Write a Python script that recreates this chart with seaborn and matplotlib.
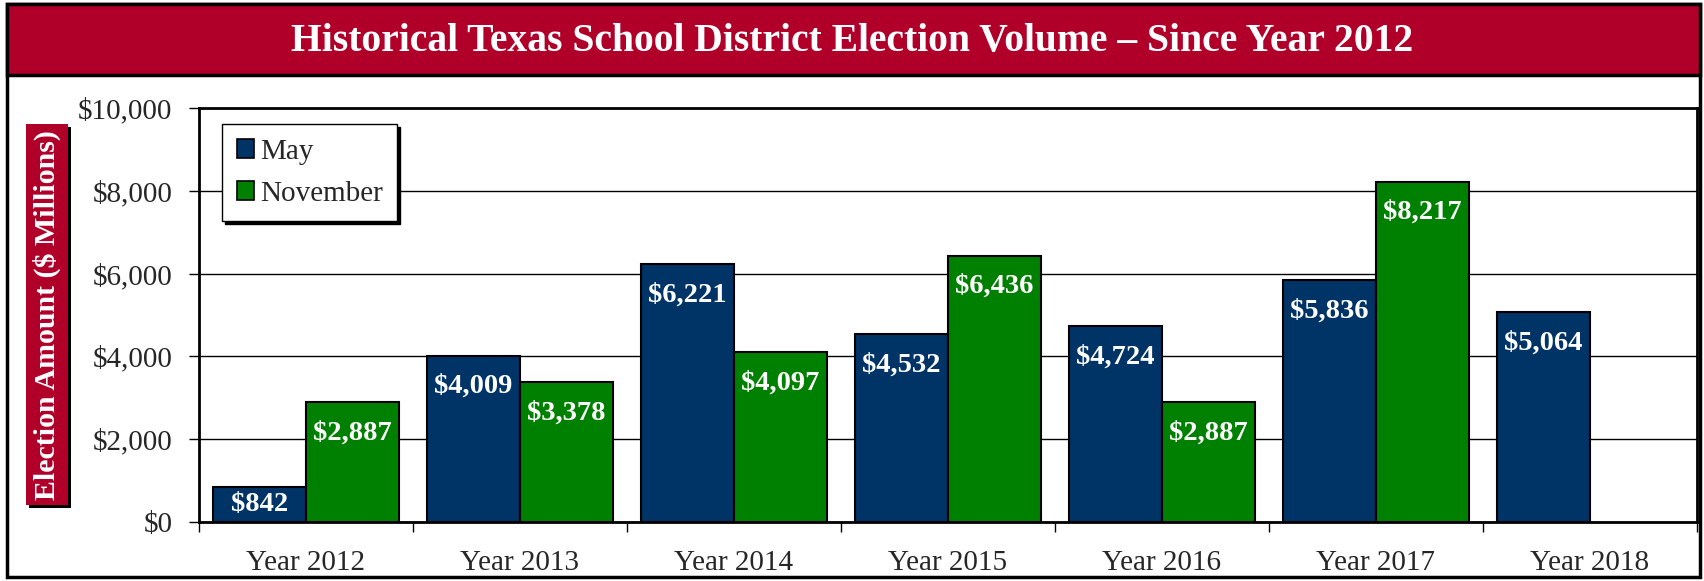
import numpy as np
import pandas as pd
import matplotlib
matplotlib.use("Agg")
import matplotlib.pyplot as plt
from matplotlib.patches import Rectangle
from matplotlib.ticker import FuncFormatter
import seaborn as sns

# --- DATOS ---
years = ["Year 2012", "Year 2013", "Year 2014", "Year 2015", "Year 2016", "Year 2017", "Year 2018"]
may = [842, 4009, 6221, 4532, 4724, 5836, 5064]
november = [2887, 3378, 4097, 6436, 2887, 8217, np.nan]

df = pd.DataFrame({
    "year": years * 2,
    "month": ["May"] * len(years) + ["November"] * len(years),
    "amount": may + november,
})

NAVY = "#003366"
GREEN = "#008000"
RED = "#B0002A"

sns.set_style("white")
plt.rcParams["font.family"] = ["Liberation Serif", "DejaVu Serif"]

W, H = 1704, 581
fig = plt.figure(figsize=(W / 100, H / 100), dpi=100)

# marco exterior y banda del titulo
fig.patches.append(Rectangle((7 / W, 1 - 577 / H), 1693 / W, 573 / H, transform=fig.transFigure,
                             fill=False, edgecolor="black", lw=2.5, zorder=0))
fig.patches.append(Rectangle((7 / W, 1 - 75 / H), 1693 / W, 71 / H, transform=fig.transFigure,
                             facecolor=RED, edgecolor="black", lw=2.5, zorder=1))
fig.text(0.5, 1 - 41 / H, "Historical Texas School District Election Volume \u2013 Since Year 2012",
         ha="center", va="center", color="white", fontsize=28.5, fontweight="bold")

# etiqueta del eje Y en caja roja con sombra
fig.patches.append(Rectangle((29 / W, 1 - 508 / H), 42 / W, 381 / H, transform=fig.transFigure,
                             facecolor="black", edgecolor="none", zorder=1))
fig.patches.append(Rectangle((26 / W, 1 - 505 / H), 42 / W, 381 / H, transform=fig.transFigure,
                             facecolor=RED, edgecolor="none", zorder=2))
fig.text(47 / W, 1 - 315 / H, "Election Amount ($ Millions)", rotation=90, ha="center", va="center",
         color="white", fontsize=21.5, fontweight="bold", zorder=3)

ax = fig.add_axes([199 / W, 59 / H, 1498 / W, 414 / H])
sns.barplot(data=df, x="year", y="amount", hue="month", hue_order=["May", "November"],
            palette=[NAVY, GREEN], width=0.87, saturation=1, edgecolor="black", linewidth=1.5,
            ax=ax)

ax.set_ylim(0, 10000)
ax.set_xlim(-0.5, len(years) - 0.5)
ax.set_yticks(np.arange(0, 10001, 2000))
ax.yaxis.set_major_formatter(FuncFormatter(lambda v, p: f"${v:,.0f}"))
ax.set_xlabel("")
ax.set_ylabel("")
ax.set_axisbelow(True)
ax.yaxis.grid(True, color="black", lw=1)

ax.set_xticks(np.arange(-0.5, len(years), 1), minor=True)
ax.tick_params(axis="x", which="major", length=0, pad=20, labelsize=21)
ax.tick_params(axis="x", which="minor", length=7, width=1, direction="out", color="black", bottom=True)
ax.tick_params(axis="y", length=7, width=1, direction="out", color="black", left=True, pad=12, labelsize=21)
for s in ax.spines.values():
    s.set_color("black")
    s.set_linewidth(2)

# etiquetas de valores
for bar in ax.patches:
    h = bar.get_height()
    if np.isnan(h) or h <= 0 or bar.get_width() == 0:
        continue
    xc = bar.get_x() + bar.get_width() / 2
    if h < 1500:
        ax.text(xc, h / 2, f"${h:,.0f}", ha="center", va="center", color="white",
                fontsize=20.5, fontweight="bold")
    else:
        ax.annotate(f"${h:,.0f}", (xc, h), xytext=(0, -22), textcoords="offset points",
                    ha="center", va="center", color="white", fontsize=20.5, fontweight="bold")

leg = ax.legend(loc="upper left", bbox_to_anchor=((222 - 199) / 1498, (522 - 124) / 414),
                borderaxespad=0, fancybox=False, framealpha=1, edgecolor="black",
                shadow={"color": "black", "alpha": 1}, fontsize=21,
                handlelength=0.6, handleheight=0.6, handletextpad=0.2, labelspacing=0.55,
                borderpad=0.5)
leg.get_frame().set_linewidth(1)
for hnd in leg.legend_handles:
    hnd.set_edgecolor("black")
    hnd.set_linewidth(1.2)

fig.savefig("out.png", dpi=100)
